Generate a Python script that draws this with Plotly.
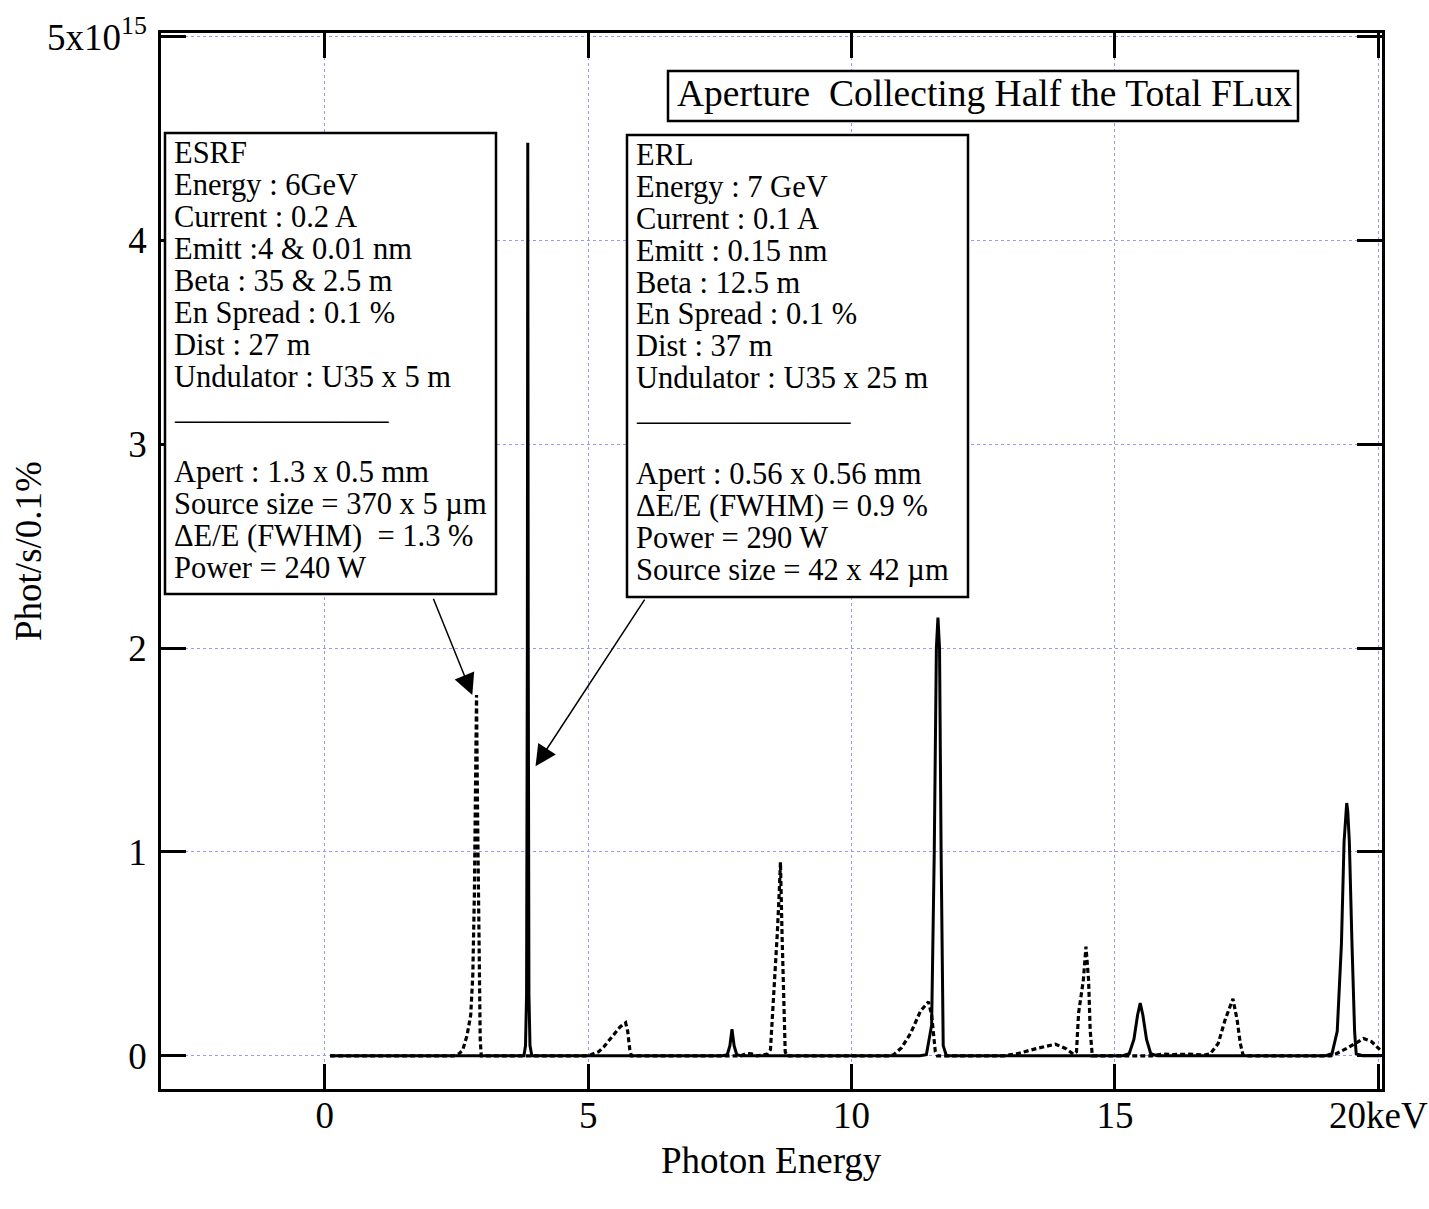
import plotly.graph_objects as go

# ---------------- data (photon energy keV, flux in 1e15 phot/s/0.1%) ----------------
erl_x = [0.1, 3.78, 3.81, 3.83, 3.845, 3.853, 3.862, 3.875, 3.895, 3.93,
         7.55, 7.64, 7.69, 7.73, 7.77, 7.82, 7.90,
         11.30, 11.42, 11.52, 11.57, 11.61, 11.64, 11.67, 11.70, 11.74, 11.80,
         15.15, 15.27, 15.36, 15.43, 15.48, 15.53, 15.60, 15.68, 15.80,
         19.00, 19.12, 19.22, 19.30, 19.35, 19.38, 19.40, 19.42, 19.45, 19.50, 19.55, 19.58, 19.70, 20.05]
erl_y = [0, 0, 0.05, 0.3, 2.0, 4.48, 2.0, 0.3, 0.05, 0,
         0, 0.005, 0.05, 0.13, 0.05, 0.005, 0,
         0, 0.005, 0.15, 1.0, 2.0, 2.15, 2.0, 1.0, 0.05, 0,
         0, 0.01, 0.08, 0.2, 0.258, 0.2, 0.08, 0.01, 0,
         0, 0.01, 0.12, 0.55, 1.05, 1.2, 1.24, 1.2, 1.05, 0.55, 0.12, 0.01, 0, 0]

esrf_x = [0.1, 2.45, 2.55, 2.62, 2.70, 2.77, 2.81, 2.84, 2.86, 2.88, 2.90, 2.93, 2.95, 2.97,
          4.95, 5.05, 5.20, 5.30, 5.40, 5.50, 5.60, 5.71, 5.75, 5.79, 5.82,
          7.90, 8.00, 8.10, 8.20, 8.30, 8.40, 8.46, 8.52, 8.59, 8.62, 8.65, 8.68, 8.71, 8.74, 8.77,
          10.70, 10.80, 10.95, 11.12, 11.31, 11.46, 11.52, 11.59, 11.63,
          12.90, 13.14, 13.52, 13.87, 14.06, 14.21, 14.27, 14.31, 14.40, 14.45, 14.50, 14.53, 14.57,
          15.70, 15.90, 16.10, 16.40, 16.70, 16.81, 16.96, 17.09, 17.24, 17.32, 17.38, 17.43, 17.48,
          19.10, 19.20, 19.40, 19.55, 19.72, 19.87, 20.03]
esrf_y = [0, 0, 0.01, 0.03, 0.1, 0.2, 0.4, 0.8, 1.3, 1.77, 1.19, 0.53, 0.08, 0,
          0, 0.005, 0.02, 0.045, 0.075, 0.11, 0.14, 0.162, 0.12, 0.03, 0,
          0, 0.012, 0.01, 0, 0.003, 0.008, 0.03, 0.27, 0.6, 0.76, 0.95, 0.6, 0.27, 0.02, 0,
          0, 0.005, 0.04, 0.11, 0.22, 0.265, 0.2, 0.02, 0,
          0, 0.01, 0.036, 0.057, 0.036, 0.008, 0.02, 0.21, 0.37, 0.535, 0.37, 0.126, 0,
          0, 0.008, 0.006, 0.008, 0.004, 0.01, 0.06, 0.175, 0.28, 0.175, 0.06, 0.005, 0,
          0, 0.01, 0.036, 0.06, 0.085, 0.07, 0.03]

x_tickvals = [0, 5, 10, 15, 20]
x_ticktext = ["0", "5", "10", "15", "20keV"]
y_tickvals = [0, 1, 2, 3, 4, 5]
y_ticktext = ["0", "1", "2", "3", "4", "5x10<sup>15</sup>"]

title_text = "Aperture\u00a0\u00a0Collecting Half the Total FLux"
esrf_lines = ["ESRF", "Energy : 6GeV", "Current : 0.2 A", "Emitt :4 & 0.01 nm",
              "Beta : 35 & 2.5 m", "En Spread : 0.1 %", "Dist : 27 m",
              "Undulator : U35 x 5 m", "______________", "",
              "Apert : 1.3 x 0.5 mm", "Source size = 370 x 5 µm",
              "ΔE/E (FWHM)\u00a0\u00a0= 1.3 %", "Power = 240 W"]
erl_lines = ["ERL", "Energy : 7 GeV", "Current : 0.1 A", "Emitt : 0.15 nm",
             "Beta : 12.5 m", "En Spread : 0.1 %", "Dist : 37 m",
             "Undulator : U35 x 25 m", "______________", "",
             "Apert : 0.56 x 0.56 mm", "ΔE/E (FWHM) = 0.9 %",
             "Power = 290 W", "Source size = 42 x 42 µm"]

# ---------------- layout helpers ----------------
W, H = 1429, 1209
L, R, T, B = 161, 1382, 33, 1089
FONT = "Liberation Serif, Times New Roman, serif"
TICK_SIZE = 37
BOX_FONT = 30.5


def px(xp):
    return (xp - L) / (R - L)


def py(yp):
    return (B - yp) / (B - T)


fig = go.Figure()
fig.add_trace(go.Scatter(x=esrf_x, y=esrf_y, mode="lines",
                         line=dict(color="black", width=3.2, dash="5px,3px"),
                         showlegend=False, hoverinfo="skip"))
fig.add_trace(go.Scatter(x=erl_x, y=erl_y, mode="lines",
                         line=dict(color="black", width=3),
                         showlegend=False, hoverinfo="skip"))

shapes = []
annotations = []


def add_box(x0, y0, x1, y1):
    shapes.append(dict(type="rect", xref="paper", yref="paper",
                       x0=px(x0), x1=px(x1), y0=py(y1), y1=py(y0),
                       line=dict(color="black", width=2.5), fillcolor="white",
                       layer="above"))


def add_text(text, xleft, baseline, size):
    annotations.append(dict(text=text, xref="paper", yref="paper",
                            x=px(xleft), y=py(baseline - 0.33 * size),
                            xanchor="left", yanchor="middle", showarrow=False,
                            font=dict(family=FONT, size=size, color="black")))


# title box
add_box(668, 71, 1298, 121)
add_text(title_text, 675, 106, 37.5)

# ESRF box
add_box(165, 133, 496, 594)
for i, t in enumerate(esrf_lines):
    if t:
        add_text(t, 172, 163.5 + 31.9 * i, BOX_FONT)

# ERL box
add_box(627, 135, 968, 597)
for i, t in enumerate(erl_lines):
    if t:
        add_text(t, 634, 165 + 31.9 * i, BOX_FONT)

# arrows (tip at the peaks, tail at the boxes)
arrow_specs = [((2.80, 1.77), (2.05, 2.25)), ((4.00, 1.42), (6.09, 2.245))]
for (tx, ty), (ax_, ay_) in arrow_specs:
    annotations.append(dict(text="", x=tx, y=ty, ax=ax_, ay=ay_, xref="x", yref="y",
                            axref="x", ayref="y", showarrow=True, arrowhead=2,
                            arrowsize=2.8, arrowwidth=1.5, arrowcolor="black",
                            standoff=0, startstandoff=0))

# axis titles
annotations.append(dict(text="Photon Energy", xref="paper", yref="paper",
                        x=px(771), y=py(1160), xanchor="center", yanchor="middle",
                        showarrow=False, font=dict(family=FONT, size=37, color="black")))
annotations.append(dict(text="Phot/s/0.1%", xref="paper", yref="paper",
                        x=px(28), y=py(551), xanchor="center", yanchor="middle",
                        textangle=-90, showarrow=False,
                        font=dict(family=FONT, size=37, color="black")))

axis_common = dict(showline=True, linecolor="black", linewidth=2.5, mirror="ticks",
                   ticks="inside", ticklen=25, tickwidth=2.5, tickcolor="black",
                   showgrid=True, gridcolor="rgb(150,150,255)", gridwidth=1,
                   griddash="dot", zeroline=False, automargin=False,
                   tickfont=dict(family=FONT, size=TICK_SIZE, color="black"))

fig.update_layout(
    width=W, height=H, autosize=False,
    margin=dict(l=L, r=W - R, t=T, b=H - B, pad=0),
    paper_bgcolor="white", plot_bgcolor="white",
    xaxis=dict(range=[-3.11, 20.07], tickvals=x_tickvals, ticktext=x_ticktext,
               ticklabelstandoff=-8, **axis_common),
    yaxis=dict(range=[-0.163, 5.018], tickvals=y_tickvals, ticktext=y_ticktext,
               ticklabelstandoff=4, **axis_common),
    shapes=shapes, annotations=annotations, showlegend=False,
)

fig.write_html("out.html")
